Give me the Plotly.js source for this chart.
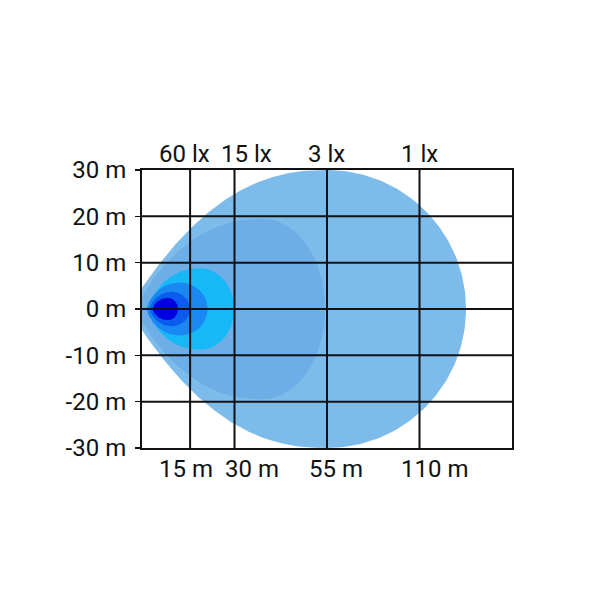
<!DOCTYPE html>
<html>
<head>
<meta charset="utf-8">
<script src="https://cdn.plot.ly/plotly-3.0.1.min.js"></script>
<style>html,body{margin:0;padding:0;background:#fff}#chart{width:600px;height:600px}</style>
</head>
<body>
<div id="chart"></div>
<script>
// Grid columns (chart units) and their labels
var gridX = [0.52, 1, 2, 3];
var distLabels = ["15 m", "30 m", "55 m", "110 m"];
var distLabelX = [0.48, 1.19, 2.1, 3.16];
var luxLabels = ["60 lx", "15 lx", "3 lx", "1 lx"];
var luxLabelX = [0.46, 1.13, 1.99, 3.0];
var gridY = [-20, -10, 0, 10, 20];
var yTicks = [-30, -20, -10, 0, 10, 20, 30];

// Isolux zones (outer to inner)
var zoneCenter    = [2.00, 1.30, 0.627, 0.41, 0.324, 0.28];
var zoneLeftSemi  = [2.15, 1.36, 0.56, 0.36, 0.24, 0.165];
var zoneRightSemi = [1.503, 0.68, 0.37, 0.30, 0.195, 0.11];
var zoneHalfWidth = [30, 19.5, 8.8, 5.7, 3.7, 2.4];
// taper of the rear (left) side: a = 2, b = 0.5 would be a plain ellipse
var zoneTaperA = [2.3, 2.2, 2.2, 2.2, 2.2, 2.2];
var zoneTaperB = [1.0, 0.85, 0.7, 0.7, 0.7, 0.7];
var zoneColors = ["#7dbbeb", "#6eaee6", "#16b8f8", "#1a88f2", "#0a5cee", "#0000e0"];

var traces = [];
for (var i = 0; i < zoneCenter.length; i++) {
  var xs = [], ys = [];
  var n = 120;
  for (var k = 0; k <= n; k++) {
    var t = -Math.PI / 2 + Math.PI * k / n; // front (right) half: ellipse
    xs.push(zoneCenter[i] + zoneRightSemi[i] * Math.cos(t));
    ys.push(zoneHalfWidth[i] * Math.sin(t));
  }
  for (var k = 0; k <= 2 * n; k++) {
    var s = 1 - 2 * k / (2 * n);            // from top (+1) to bottom (-1)
    var u = 1 - Math.abs(s);
    var dy = Math.pow(Math.max(0, 1 - Math.pow(u, zoneTaperA[i])), zoneTaperB[i]);
    xs.push(zoneCenter[i] - zoneLeftSemi[i] * u);
    ys.push((s >= 0 ? 1 : -1) * zoneHalfWidth[i] * dy);
  }
  traces.push({
    x: xs, y: ys, type: "scatter", mode: "lines", fill: "toself",
    fillcolor: zoneColors[i], line: {width: 0, color: zoneColors[i]},
    hoverinfo: "skip", showlegend: false
  });
}

var shapes = [];
gridX.forEach(function (v) {
  shapes.push({type: "line", xref: "x", yref: "paper", x0: v, x1: v, y0: 0, y1: 1,
    line: {color: "#111", width: 2}, layer: "above"});
});
gridY.forEach(function (v) {
  shapes.push({type: "line", xref: "paper", yref: "y", x0: 0, x1: 1, y0: v, y1: v,
    line: {color: "#111", width: 2}, layer: "above"});
});

var font = {family: "Roboto, 'Open Sans', sans-serif", size: 24, color: "#111"};
var annotations = [];
distLabels.forEach(function (t, i) {
  annotations.push({text: t, x: distLabelX[i], xref: "x", y: 0, yref: "paper",
    yanchor: "top", xanchor: "center", yshift: -5, showarrow: false, font: font});
});
luxLabels.forEach(function (t, i) {
  annotations.push({text: t, x: luxLabelX[i], xref: "x", y: 1, yref: "paper",
    yanchor: "bottom", xanchor: "center", yshift: 0, showarrow: false, font: font});
});

var layout = {
  width: 600, height: 600,
  margin: {l: 142, r: 88, t: 170, b: 152},
  paper_bgcolor: "#fff", plot_bgcolor: "#fff",
  xaxis: {range: [0, 4], showgrid: false, zeroline: false, showticklabels: false,
    ticks: "", showline: true, mirror: true, linecolor: "#111", linewidth: 2, fixedrange: true},
  yaxis: {range: [-30, 30], tickvals: yTicks, ticktext: yTicks.map(function(v){return v + " m";}),
    showgrid: false, zeroline: false, ticks: "outside", ticklen: 5, tickwidth: 1.5, tickcolor: "#111",
    showline: true, mirror: true, linecolor: "#111", linewidth: 2, tickfont: font, ticklabelstandoff: 4,
    fixedrange: true},
  shapes: shapes,
  annotations: annotations,
  showlegend: false
};

Plotly.newPlot("chart", traces, layout, {displayModeBar: false, staticPlot: true});
</script>
</body>
</html>
